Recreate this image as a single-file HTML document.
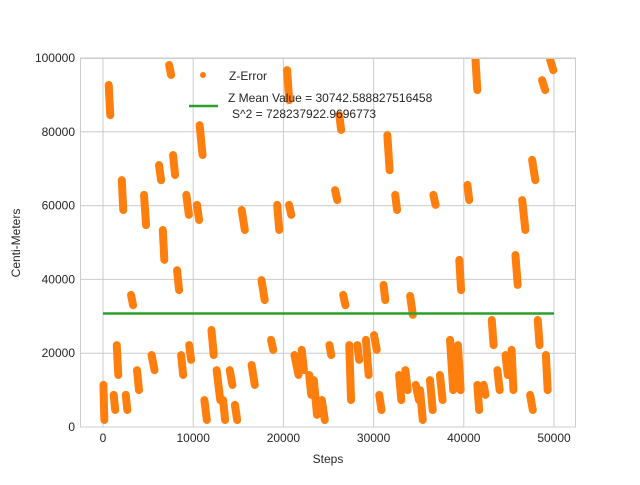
<!DOCTYPE html>
<html><head><meta charset="utf-8"><style>
body{margin:0;background:#fff;font-family:"Liberation Sans",sans-serif;}
svg text{font-family:"Liberation Sans",sans-serif;fill:#262626;}
</style></head><body>
<svg id="c" width="640" height="480" xmlns="http://www.w3.org/2000/svg">
<defs><clipPath id="clip"><rect x="80" y="58" width="496" height="369"/></clipPath></defs>
<rect x="0" y="0" width="640" height="480" fill="#fff"/>
<g id="grid"></g>
<g id="marks" clip-path="url(#clip)"></g>
<rect x="80.5" y="58.5" width="495" height="368.5" fill="none" stroke="#ccc"/>
<g id="ticks"></g>
<text x="328" y="463" font-size="12" text-anchor="middle">Steps</text>
<text transform="translate(20,243) rotate(-90)" font-size="12" text-anchor="middle">Centi-Meters</text>
<g>
<circle cx="203" cy="75" r="3" fill="#ff7f0e"/>
<text x="229" y="80" font-size="12">Z-Error</text>
<line x1="189" y1="106" x2="218" y2="106" stroke="#2ca02c" stroke-width="2.5"/>
<text x="228" y="102" font-size="12">Z Mean Value = 30742.588827516458</text>
<text x="232" y="118" font-size="12">S^2 = 728237922.9696773</text>
</g>
</svg>
<script>
const xTicks=[0,10000,20000,30000,40000,50000];
const yTicks=[0,20000,40000,60000,80000,100000];
const stepA=[0,550,1100,1440,2000,2440,3000,3660,4440,5220,6100,6550,7220,7660,8100,8550,9100,9440,10300,10550,11100,11900,12400,13200,13900,14500,15200,16300,17400,18500,19200,20300,20500,21000,21900,22750,23200,24100,25000,25600,26100,26500,27200,28100,29000,29900,30500,31000,31400,32300,32700,33400,33900,34500,35000,36100,36500,37200,38300,39200,39400,40300,41200,41400,42100,43000,43600,44500,45200,45600,46300,47200,47400,48100,48500,49000,49400];
const stepB=[200,890,1440,1780,2330,2780,3440,4100,4880,5880,6550,6880,7660,8100,8550,9000,9660,9880,10770,11200,11650,12400,13200,13650,14500,15000,15900,17000,18100,19000,19650,20750,21000,21900,22400,23200,23900,24750,25400,26100,26500,27000,27600,28500,29600,30500,31000,31400,31900,32700,33200,33900,34500,35200,35600,36700,37000,37800,39000,39800,39800,40700,41600,41800,42500,43400,44100,45000,45600,46100,47000,47800,48100,48500,49200,49400,50100];
const lowV=[1900,84500,4600,14100,58800,4600,33000,10000,54700,15400,66900,45300,95400,68300,37100,14100,57500,18200,56100,73700,1900,19500,7300,1900,11400,1900,53400,11400,34400,20900,53400,88600,57500,14100,15400,8700,3300,1900,19500,61500,80500,33000,7300,18200,14100,20900,4600,34400,69600,58800,7300,10000,30400,7300,1900,4600,60200,7300,10000,10000,37100,61500,91300,4600,8700,22200,10000,14100,10000,38500,53400,4600,66900,22200,91300,10000,96700];
const highV=[11400,92700,8700,22200,66900,8700,35800,15400,62900,19500,71000,53400,98100,73700,42500,19500,62900,22200,60200,81800,7300,26300,15400,7300,15400,6000,58800,16800,39800,23600,60200,96700,60200,19500,20900,14100,12700,7300,22200,64200,84500,35800,22200,22200,23600,24900,8700,38500,79100,62900,14100,15400,35500,11400,10000,12700,62900,14100,23600,22200,45300,65600,99500,11400,11400,29000,15400,19500,20900,46600,61500,8700,72400,29000,94000,19500,99500];
const meanValue=30742.588827516458;
const meanStart=0, meanEnd=50000;
const X=v=>103+v*(451/50000);
const Y=v=>427-v*(369/100000);
const NS='http://www.w3.org/2000/svg';
function mk(t,a,p){const e=document.createElementNS(NS,t);for(const k in a)e.setAttribute(k,a[k]);p.appendChild(e);return e;}
const grid=document.getElementById('grid'),ticks=document.getElementById('ticks'),marks=document.getElementById('marks');
xTicks.forEach(t=>{
 const l=mk('line',{x1:X(t),x2:X(t),y1:58,y2:427,stroke:'#cccccc','stroke-width':1},grid);
 
 
 const tx=mk('text',{x:X(t),y:442,'font-size':12,'text-anchor':'middle'},ticks);tx.textContent=t;
 
 
});
yTicks.forEach(t=>{
 const l=mk('line',{x1:80,x2:576,y1:Y(t),y2:Y(t),stroke:'#cccccc','stroke-width':1},grid);
 
 
 const tx=mk('text',{x:75,y:Y(t)+4,'font-size':12,'text-anchor':'end'},ticks);tx.textContent=t;
 
 
});
for(let i=0;i<stepA.length;i++){
 const mid=(stepA[i]+stepB[i])/2, half=(stepB[i]-stepA[i])/4;
 const l=mk('line',{x1:X(mid-half),y1:Y(highV[i]),x2:X(mid+half),y2:Y(lowV[i]),stroke:'#ff7f0e','stroke-width':8,'stroke-linecap':'round'},marks);
 
 
}
const m=mk('line',{x1:X(meanStart),x2:X(meanEnd),y1:Y(meanValue),y2:Y(meanValue),stroke:'#2ca02c','stroke-width':2.5},marks);


</script>
</body></html>
